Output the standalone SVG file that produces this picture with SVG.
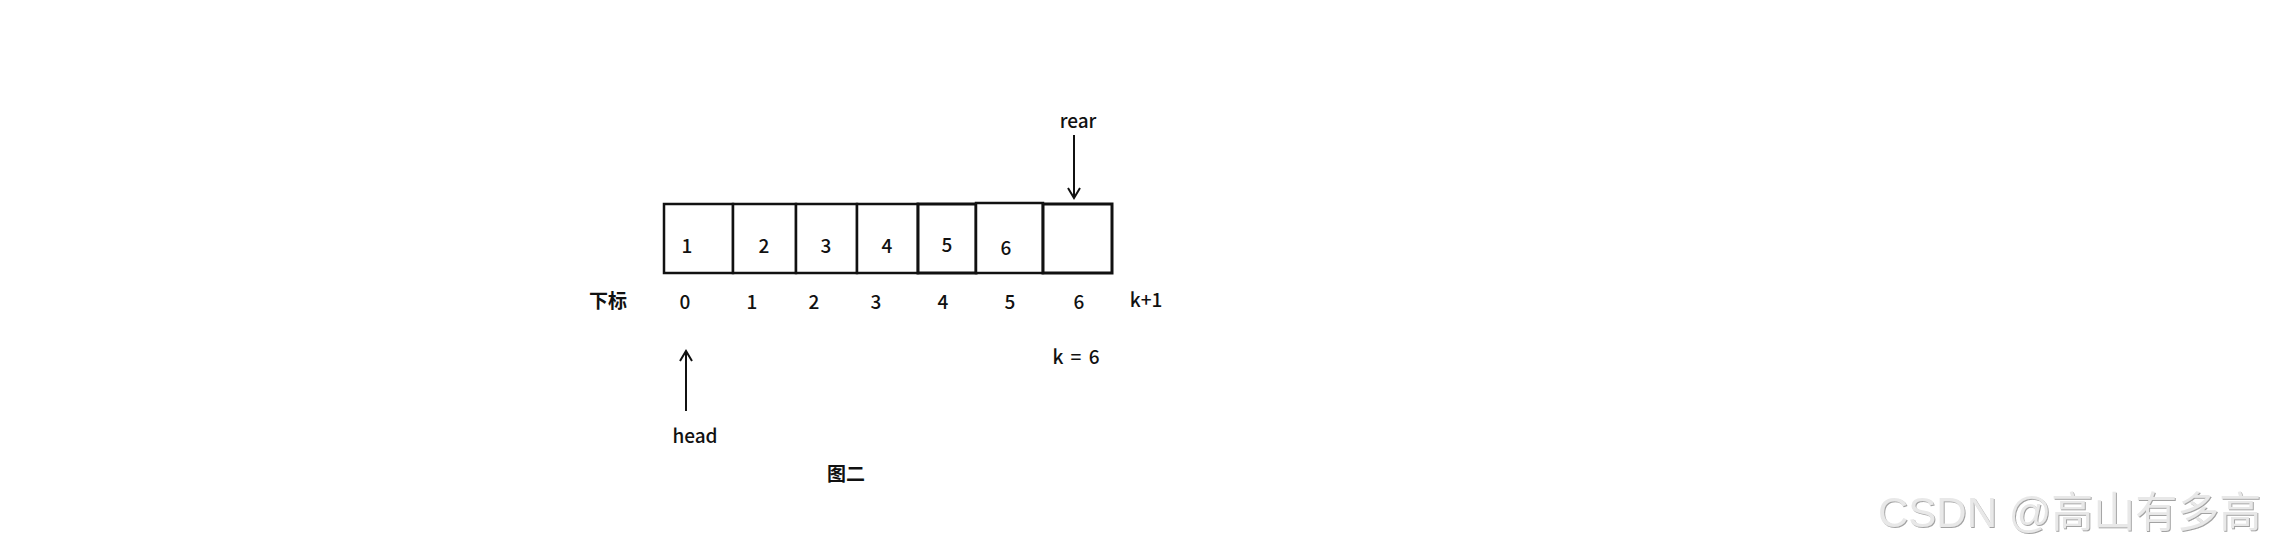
<svg xmlns="http://www.w3.org/2000/svg" width="2271" height="548" viewBox="0 0 2271 548">
<style>
  .cell { fill: #fff; stroke: #111; stroke-width: 2.5; }
  .t { font-family: "Noto Sans CJK SC", "Noto Sans", sans-serif; font-size: 19px; font-weight: 500; fill: #111; text-anchor: middle; }
  .b { font-weight: bold; }
  .conn { stroke: #111; stroke-width: 2; fill: none; }
  .wm { font-family: "Liberation Sans", "Noto Sans CJK SC", sans-serif; font-size: 42px; fill: #e8e8e8; }
</style>
<defs>
  <marker id="arr" viewBox="0 0 20 14" refX="18" refY="7" markerWidth="20" markerHeight="14" markerUnits="userSpaceOnUse" orient="auto">
    <path d="M8,1 L18,7 L8,13" fill="none" stroke="#111" stroke-width="2"/>
  </marker>
  <filter id="emb" x="-5%" y="-20%" width="110%" height="140%">
    <feDropShadow dx="1" dy="1" stdDeviation="0.6" flood-color="#8a8a8a" flood-opacity="0.8"/>
  </filter>
</defs>
<rect width="2271" height="548" fill="#fff"/>

<g id="cell0"><rect class="cell" x="664" y="204" width="69" height="69"/><text class="t" x="687" y="253">1</text></g>
<g id="cell1"><rect class="cell" x="733" y="204" width="63" height="69"/><text class="t" x="764" y="253">2</text></g>
<g id="cell2"><rect class="cell" x="796" y="204" width="61" height="69"/><text class="t" x="826" y="253">3</text></g>
<g id="cell3"><rect class="cell" x="857" y="204" width="61" height="69"/><text class="t" x="887" y="253">4</text></g>
<g id="cell4"><rect class="cell" x="918" y="204" width="58" height="69" style="stroke-width:3"/><text class="t" x="947" y="252">5</text></g>
<g id="cell5"><rect class="cell" x="976" y="203" width="67" height="70"/><text class="t" x="1006" y="255">6</text></g>
<g id="cell6"><rect class="cell" x="1043" y="204" width="69" height="69" style="stroke-width:3"/></g>

<g id="rear"><text class="t" x="1078" y="128">rear</text></g>
<g id="head"><text class="t" x="695" y="443">head</text></g>

<g id="indices">
  <text class="t b" x="608" y="308">下标</text>
  <text class="t" x="685" y="309">0</text>
  <text class="t" x="752" y="309">1</text>
  <text class="t" x="814" y="309">2</text>
  <text class="t" x="876" y="309">3</text>
  <text class="t" x="943" y="309">4</text>
  <text class="t" x="1010" y="309">5</text>
  <text class="t" x="1079" y="309">6</text>
  <text class="t" x="1146" y="307">k+1</text>
</g>
<g id="kval"><text class="t" x="1076" y="364" word-spacing="3" xml:space="preserve">k = 6</text></g>
<g id="caption"><text class="t b" x="846" y="481">图二</text></g>

<g id="connectors">
  <line class="conn" x1="1074" y1="135" x2="1074" y2="198" marker-end="url(#arr)"/>
  <line class="conn" x1="686" y1="411" x2="686" y2="351" marker-end="url(#arr)"/>
</g>

<g id="watermark"><text class="wm" x="1878" y="527" filter="url(#emb)">CSDN @高山有多高</text></g>
</svg>
